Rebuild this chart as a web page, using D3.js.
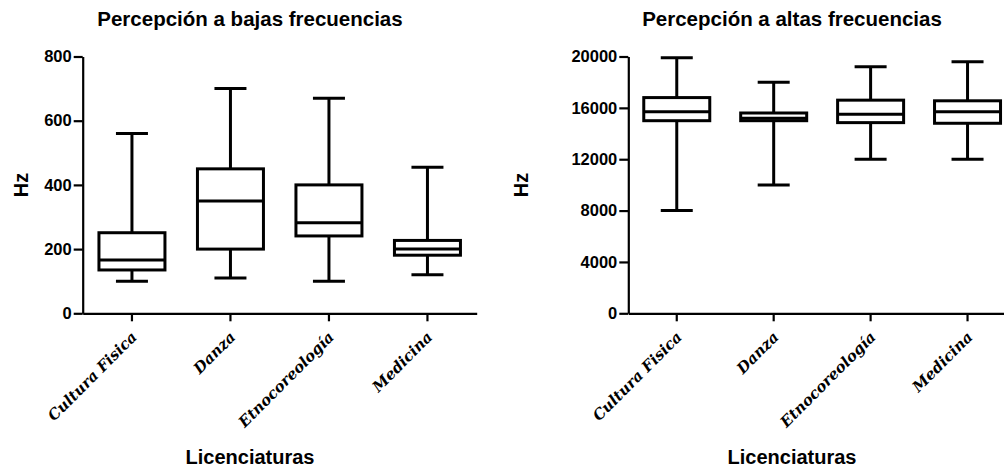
<!DOCTYPE html>
<html>
<head>
<meta charset="utf-8">
<script src="https://cdn.jsdelivr.net/npm/d3@7"></script>
<style>
  body { margin: 0; background: #fff; }
  text { font-family: Arial, "Liberation Sans", sans-serif; font-weight: bold; fill: #000; }
  .cat { font-family: "DejaVu Serif", serif; font-style: italic; font-weight: bold; }
</style>
</head>
<body>
<svg width="1004" height="471"></svg>
<script>
var categories = ["Cultura Fisica", "Danza", "Etnocoreología", "Medicina"];

// percepción a bajas frecuencias (Hz)
var lowMin = [100, 110, 100, 120];
var lowQ1  = [135, 200, 241, 181];
var lowMed = [166, 350, 282, 200];
var lowQ3  = [251, 450, 400, 227];
var lowMax = [560, 700, 670, 455];
var lowTicks = [0, 200, 400, 600, 800];

// percepción a altas frecuencias (Hz)
var highMin = [8000, 10000, 12000, 12000];
var highQ1  = [15000, 15000, 14850, 14800];
var highMed = [15700, 15200, 15500, 15700];
var highQ3  = [16800, 15600, 16600, 16550];
var highMax = [19900, 18000, 19200, 19600];
var highTicks = [0, 4000, 8000, 12000, 16000, 20000];

var svg = d3.select("svg");

function boxChart(cfg) {
  var x = d3.scaleBand().domain(categories).range([cfg.left, cfg.right]);
  var y = d3.scaleLinear().domain([0, cfg.ymax]).range([313.3, 56.5]);

  var rows = categories.map(function(c, i) {
    return {cat: c, min: cfg.min[i], q1: cfg.q1[i], med: cfg.med[i], q3: cfg.q3[i], max: cfg.max[i]};
  });

  var g = svg.append("g");

  // y axis
  var ya = g.append("g")
    .attr("transform", "translate(" + cfg.left + ",0)")
    .call(d3.axisLeft(y).tickValues(cfg.ticks).tickFormat(d3.format("d"))
      .tickSize(9).tickPadding(2).tickSizeOuter(0));
  ya.selectAll("text").style("font-size", "16.5px").style("font-family", "Arial, 'Liberation Sans', sans-serif").style("font-weight", "bold");

  // x axis
  var xa = g.append("g")
    .attr("transform", "translate(0,313.3)")
    .call(d3.axisBottom(x).tickSize(8).tickSizeOuter(0).tickFormat(""));
  [ya, xa].forEach(function(a) {
    a.select(".domain").attr("stroke-width", 2.2);
    a.selectAll(".tick line").attr("stroke-width", 2.2);
  });

  var bw = 66, cw = 32;
  var box = g.selectAll(".box").data(rows).enter().append("g")
    .attr("transform", function(d) { return "translate(" + (x(d.cat) + x.bandwidth() / 2) + ",0)"; })
    .attr("stroke", "#000").attr("stroke-width", 3).attr("fill", "none");

  box.append("line").attr("x1", 0).attr("x2", 0)
    .attr("y1", function(d) { return y(d.max); }).attr("y2", function(d) { return y(d.q3); });
  box.append("line").attr("x1", 0).attr("x2", 0)
    .attr("y1", function(d) { return y(d.q1); }).attr("y2", function(d) { return y(d.min); });
  box.append("line").attr("x1", -cw / 2).attr("x2", cw / 2)
    .attr("y1", function(d) { return y(d.max); }).attr("y2", function(d) { return y(d.max); });
  box.append("line").attr("x1", -cw / 2).attr("x2", cw / 2)
    .attr("y1", function(d) { return y(d.min); }).attr("y2", function(d) { return y(d.min); });
  box.append("rect").attr("x", -bw / 2).attr("width", bw)
    .attr("y", function(d) { return y(d.q3); })
    .attr("height", function(d) { return y(d.q1) - y(d.q3); });
  box.append("line").attr("x1", -bw / 2).attr("x2", bw / 2)
    .attr("y1", function(d) { return y(d.med); }).attr("y2", function(d) { return y(d.med); });

  // category labels
  g.selectAll(".cat").data(categories).enter().append("text")
    .attr("class", "cat")
    .attr("text-anchor", "end")
    .style("font-size", "15px")
    .attr("transform", function(d) { return "translate(" + (x(d) + x.bandwidth() / 2 + 6) + ",338) rotate(-45)"; })
    .text(function(d) { return d; });

  g.append("text").attr("x", cfg.titleX).attr("y", 26).attr("text-anchor", "middle")
    .style("font-size", "20.5px").text(cfg.title);
  g.append("text").attr("x", cfg.titleX).attr("y", 464).attr("text-anchor", "middle")
    .style("font-size", "20px").text("Licenciaturas");
  g.append("text").attr("transform", "translate(" + cfg.hzX + ",185) rotate(-90)")
    .attr("text-anchor", "middle").style("font-size", "20px").text("Hz");
}

boxChart({left: 82.7, right: 476.7, ymax: 800, ticks: lowTicks,
  min: lowMin, q1: lowQ1, med: lowMed, q3: lowQ3, max: lowMax,
  title: "Percepción a bajas frecuencias", titleX: 250, hzX: 28});

boxChart({left: 628.3, right: 1016, ymax: 20000, ticks: highTicks,
  min: highMin, q1: highQ1, med: highMed, q3: highQ3, max: highMax,
  title: "Percepción a altas frecuencias", titleX: 792, hzX: 528});
</script>
</body>
</html>
